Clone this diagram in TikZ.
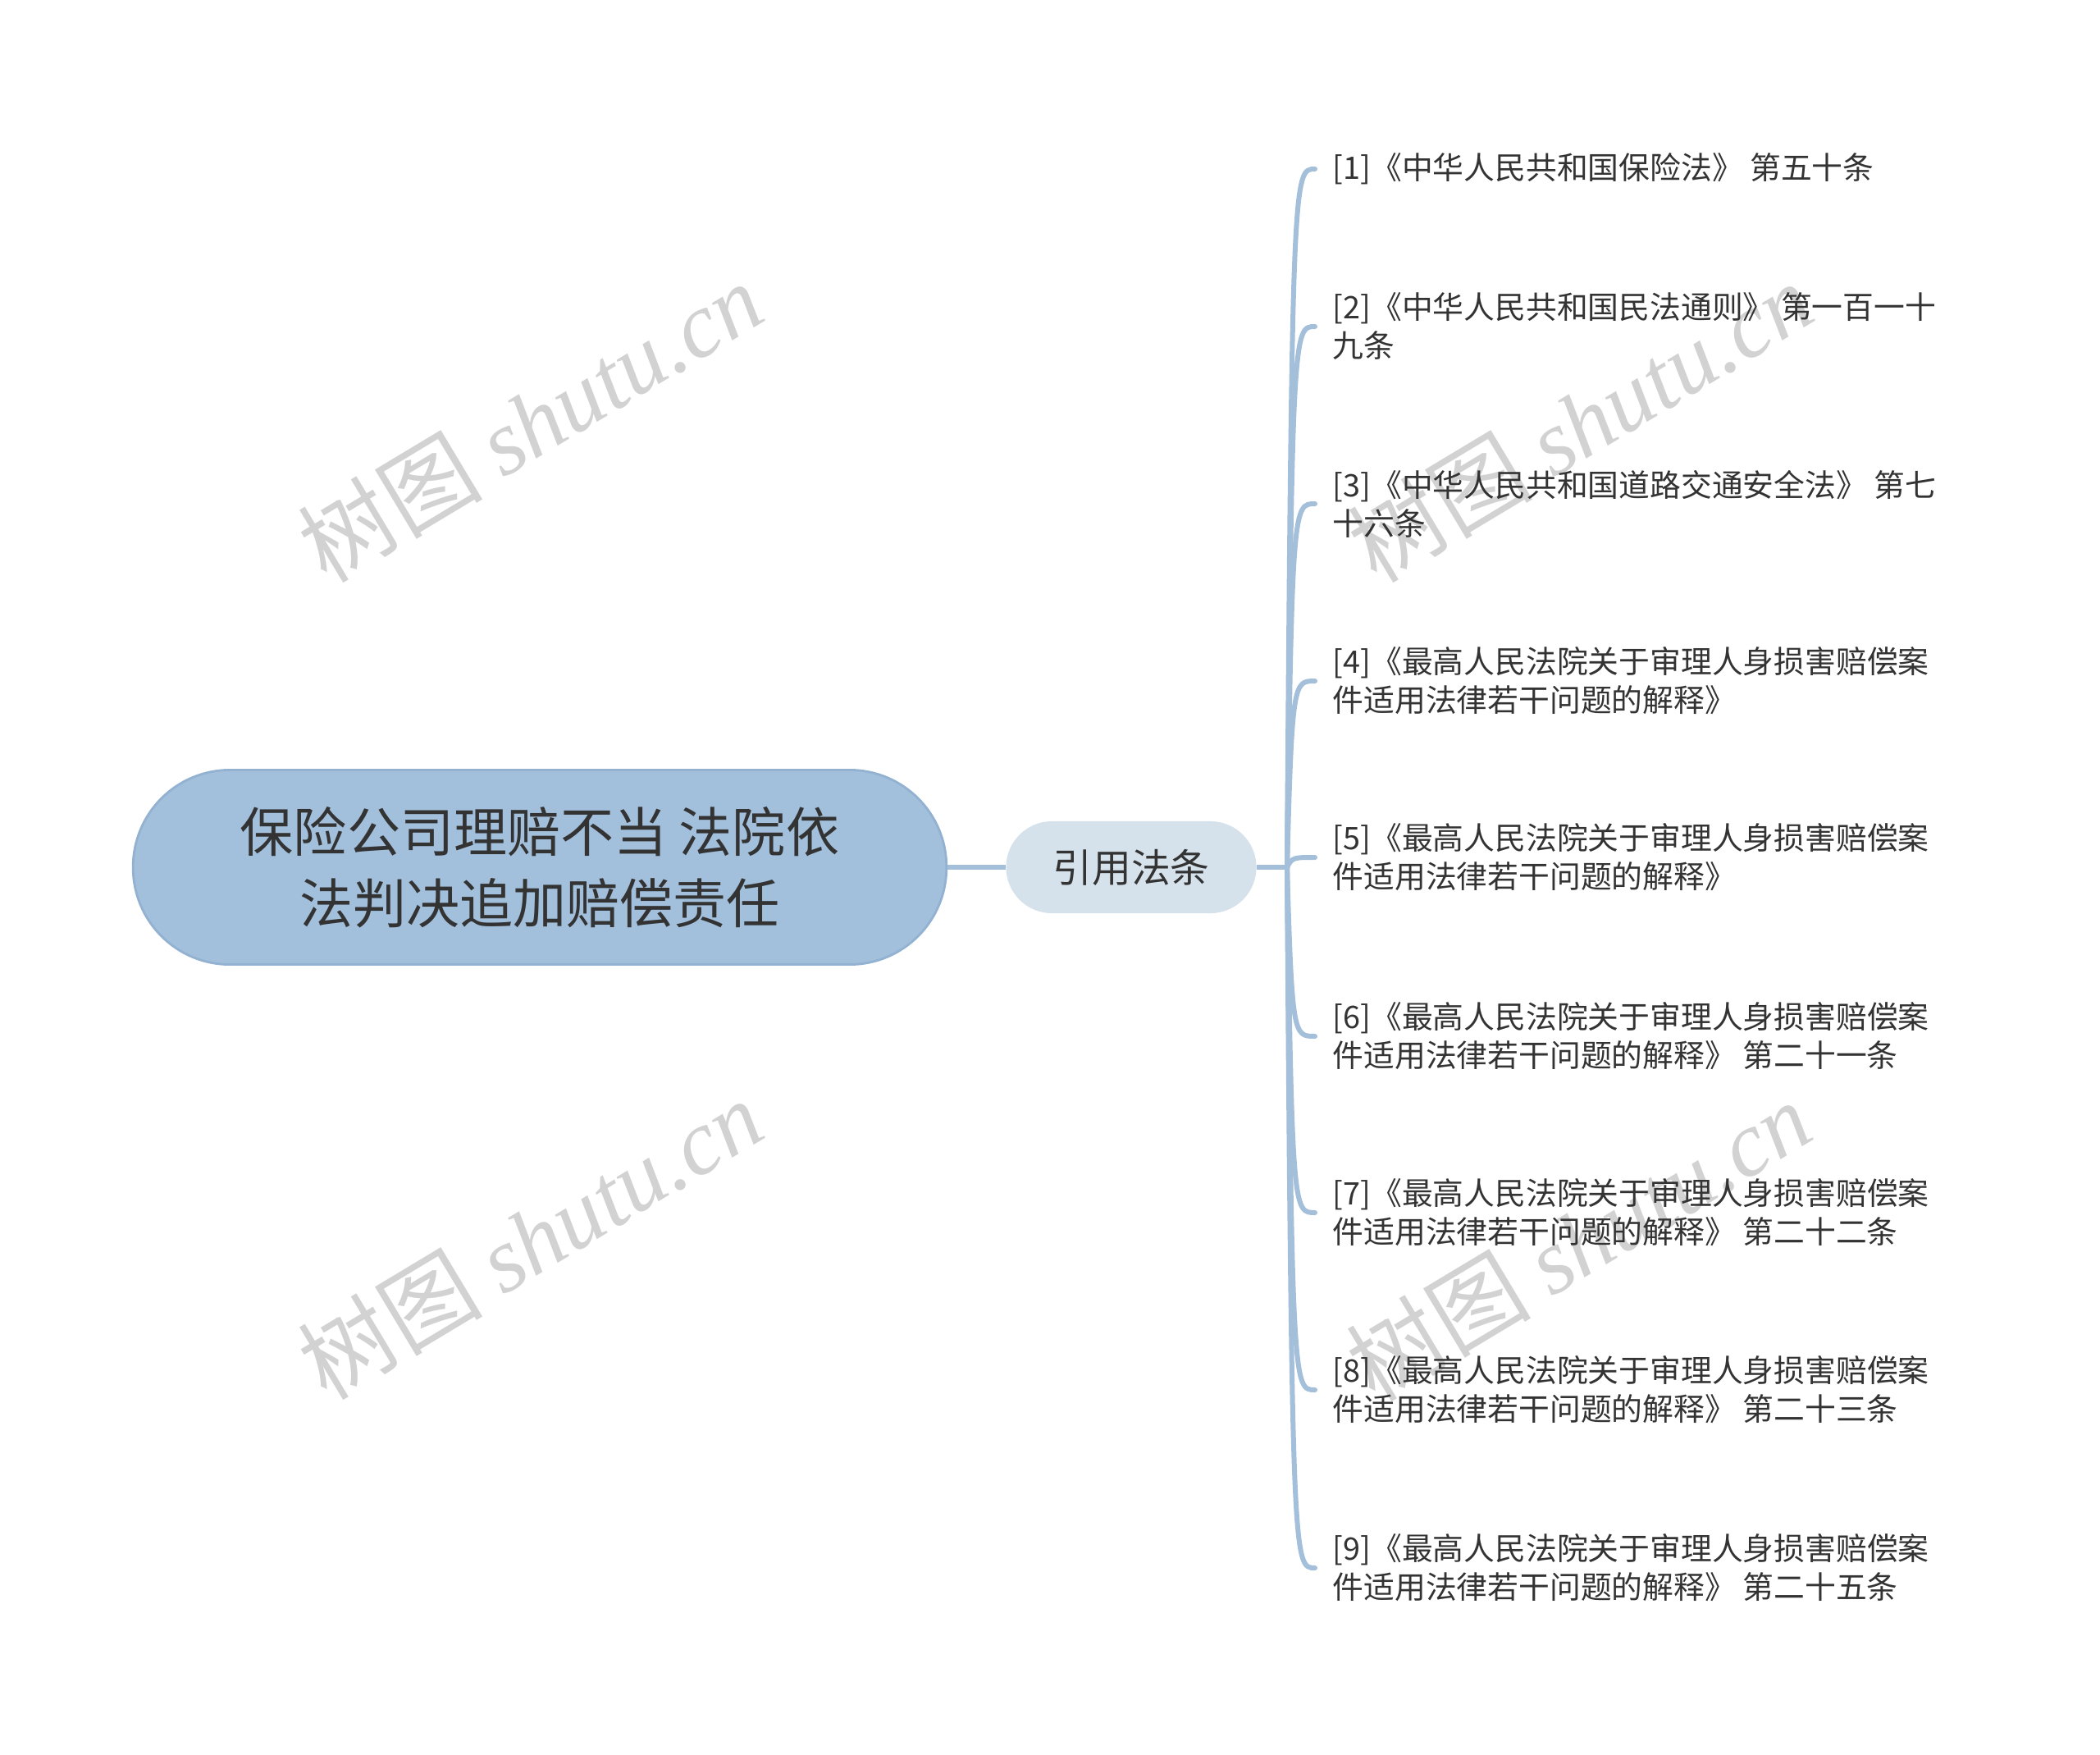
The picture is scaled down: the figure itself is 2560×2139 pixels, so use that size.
\documentclass[tikz,border=0pt]{standalone}
\usepackage{fontspec}
\setmainfont{Noto Sans CJK SC}
\newfontfamily\cjk{Noto Sans CJK SC}
\newfontfamily\wmserif{Liberation Serif}
\usetikzlibrary{calc}
\definecolor{linec}{HTML}{A3BFDA}
\definecolor{rootc}{HTML}{A2BFDB}
\definecolor{rootb}{HTML}{93B2D1}
\definecolor{midc}{HTML}{D5E1EB}
\definecolor{txt}{HTML}{333333}
\definecolor{wm}{HTML}{D2D2D2}
\begin{document}
\begin{tikzpicture}[x=0.01cm,y=-0.01cm,
 rootbox/.style={draw=rootb, line width=0.8pt, fill=rootc, rounded corners=1.18cm, minimum width=9.91cm, minimum height=2.37cm, align=center, text=txt, font=\fontsize{18.5}{24.75}\selectfont},
 midbox/.style={fill=midc, rounded corners=0.56cm, minimum width=3.05cm, minimum height=1.12cm, text=txt, font=\fontsize{13.6}{16}\selectfont},
 leaf/.style={anchor=west, align=left, inner xsep=0.21cm, inner ysep=0pt, text=txt, font=\fontsize{10.75}{13.37}\selectfont},
 conn/.style={draw=linec, line width=0.06cm},
 wmark/.style={text=wm, rotate=31, inner sep=0pt, font=\fontsize{32}{36}\selectfont}
]
\useasboundingbox (0,0) rectangle (2560,2139);
% watermarks
\node[wmark] (w1) at (646,514) {\cjk 树图 \wmserif\itshape shutu.cn};
\node[wmark] (w2) at (646,1510) {\cjk 树图 \wmserif\itshape shutu.cn};
\node[wmark] (w3) at (1926,514) {\cjk 树图 \wmserif\itshape shutu.cn};
\node[wmark] (w4) at (1924,1512) {\cjk 树图 \wmserif\itshape shutu.cn};
% nodes
\node[rootbox] (root) at (658,1057) {保险公司理赔不当 法院依\\法判决追加赔偿责任};
\node[midbox] (mid) at (1379,1057) {引用法条};
\coordinate (sp) at (1569,1057);
\node[leaf] (l1) at (1603,206) {[1]《中华人民共和国保险法》 第五十条};
\node[leaf] (l2) at (1603,398) {[2]《中华人民共和国民法通则》 第一百一十\\九条};
\node[leaf] (l3) at (1603,614) {[3]《中华人民共和国道路交通安全法》 第七\\十六条};
\node[leaf] (l4) at (1603,830) {[4]《最高人民法院关于审理人身损害赔偿案\\件适用法律若干问题的解释》};
\node[leaf] (l5) at (1603,1045) {[5]《最高人民法院关于审理人身损害赔偿案\\件适用法律若干问题的解释》};
\node[leaf] (l6) at (1603,1263) {[6]《最高人民法院关于审理人身损害赔偿案\\件适用法律若干问题的解释》 第二十一条};
\node[leaf] (l7) at (1603,1478) {[7]《最高人民法院关于审理人身损害赔偿案\\件适用法律若干问题的解释》 第二十二条};
\node[leaf] (l8) at (1603,1694) {[8]《最高人民法院关于审理人身损害赔偿案\\件适用法律若干问题的解释》 第二十三条};
\node[leaf] (l9) at (1603,1911) {[9]《最高人民法院关于审理人身损害赔偿案\\件适用法律若干问题的解释》 第二十五条};
% connectors
\draw[conn] (root.east) -- (mid.west);
\draw[conn] (mid.east) -- (sp);
\foreach \n in {l1,l2,l3,l4,l5,l6,l7,l8,l9}{
  \draw[conn, line cap=round] (sp) .. controls ($(sp |- \n.west)+(6,0)$) and ($(sp |- \n.west)+(8,0)$) .. (\n.west);
}
\end{tikzpicture}
\end{document}
